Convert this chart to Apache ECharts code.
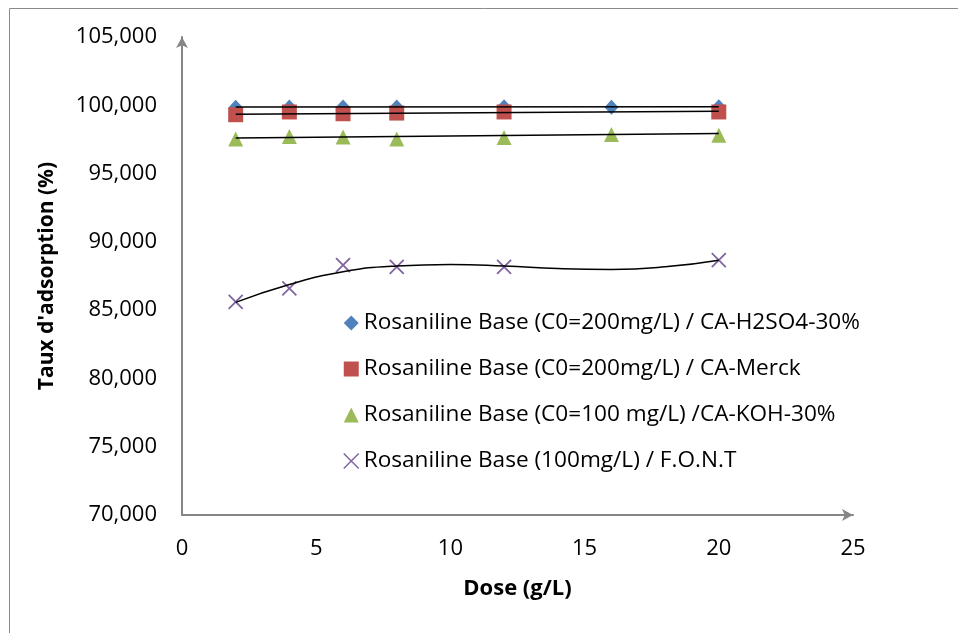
<!DOCTYPE html>
<html><head><meta charset="utf-8">
<script src="https://cdn.jsdelivr.net/npm/echarts@6/dist/echarts.min.js"></script>
<style>html,body{margin:0;padding:0;background:#fff}#c{width:958px;height:633px}</style>
</head><body><div id="c"></div>
<script>
// ---- data ----
var doseAll = [2, 4, 6, 8, 12, 16, 20];
var doseNo16 = [2, 4, 6, 8, 12, 20];
var h2so4Values = [99.85, 99.88, 99.88, 99.88, 99.9, 99.86, 99.9];
var merckValues = [99.31, 99.51, 99.38, 99.43, 99.51, 99.51];
var kohValues = [97.53, 97.72, 97.68, 97.53, 97.64, 97.86, 97.81];
var fontValues = [85.61, 86.59, 88.30, 88.17, 88.17, 88.66];
// trend lines
var trendLinX = [2, 20];
var h2so4Trend = [99.87, 99.9];
var merckTrend = [99.34, 99.56];
var kohTrend = [97.61, 97.93];
var fontTrendX = [2, 4, 6, 8, 10, 12, 14, 16, 18, 20];
var fontTrend = [85.57, 86.88, 87.81, 88.24, 88.35, 88.24, 88.05, 87.98, 88.17, 88.66];
var seriesNames = [
  'Rosaniline Base (C0=200mg/L) / CA-H2SO4-30%',
  'Rosaniline Base (C0=200mg/L) / CA-Merck',
  'Rosaniline Base (C0=100 mg/L) /CA-KOH-30%',
  'Rosaniline Base (100mg/L) / F.O.N.T'
];
var yTicks = [70, 75, 80, 85, 90, 95, 100, 105];
var xTicks = [0, 5, 10, 15, 20, 25];

function pairs(xs, ys) { return xs.map(function (x, i) { return [x, ys[i]]; }); }

var FONT = 'Open Sans';
var crossPath = 'path://M0,0L10,10M10,0L0,10';

var chart = echarts.init(document.getElementById('c'));
function trend(xs, ys, smooth) {
  return {
    type: 'line', data: pairs(xs, ys), smooth: smooth ? 0.5 : false, symbol: 'none',
    lineStyle: { color: '#000', width: 1.5 }, silent: true, z: 3, legendHoverLink: false
  };
}
chart.setOption({
  animation: false,
  textStyle: { fontFamily: FONT },
  graphic: [{
    type: 'rect', shape: { x: 9.5, y: 8.5, width: 1100, height: 800 },
    style: { fill: 'none', stroke: '#8a8a8a', lineWidth: 1 }, silent: true
  }],
  grid: { left: 182, right: 105, top: 37, bottom: 118 },
  xAxis: {
    type: 'value', min: 0, max: 25, interval: 5,
    name: 'Dose (g/L)', nameLocation: 'middle', nameGap: 63,
    nameTextStyle: { fontFamily: FONT, fontWeight: 'bold', fontSize: 22, color: '#000' },
    axisLine: { lineStyle: { color: '#868686', width: 2 }, symbol: ['none', 'arrow'], symbolSize: [9, 11] },
    axisTick: { show: false }, splitLine: { show: false },
    axisLabel: { fontSize: 22, color: '#000', margin: 23, formatter: function (v) { return String(v); } }
  },
  yAxis: {
    type: 'value', min: 70, max: 105, interval: 5,
    name: "Taux d'adsorption (%)", nameLocation: 'middle', nameGap: 124,
    nameTextStyle: { fontFamily: FONT, fontWeight: 'bold', fontSize: 21, color: '#000' },
    axisLine: { show: true, lineStyle: { color: '#868686', width: 2 }, symbol: ['none', 'arrow'], symbolSize: [9, 11] },
    axisTick: { show: false }, splitLine: { show: false },
    axisLabel: { fontSize: 22, color: '#000', margin: 25, formatter: function (v) { return v.toFixed(3).replace('.', ','); } }
  },
  legend: {
    orient: 'vertical', left: 338, top: 306, itemGap: 22, itemWidth: 15, itemHeight: 15,
    textStyle: { fontSize: 22.6, color: '#000', fontFamily: FONT, lineHeight: 24 },
    data: [
      { name: seriesNames[0], icon: 'diamond' },
      { name: seriesNames[1], icon: 'rect' },
      { name: seriesNames[2], icon: 'triangle' },
      { name: seriesNames[3], icon: crossPath, itemStyle: { color: 'transparent', borderColor: '#8064A2', borderWidth: 1.5 } }
    ]
  },
  series: [
    { name: seriesNames[0], type: 'scatter', data: pairs(doseAll, h2so4Values), symbol: 'diamond', symbolSize: [14, 15],
      itemStyle: { color: '#4F81BD', opacity: 1 }, z: 2 },
    { name: seriesNames[1], type: 'scatter', data: pairs(doseNo16, merckValues), symbol: 'rect', symbolSize: [15, 15],
      itemStyle: { color: '#C0504D', opacity: 1 }, z: 2 },
    { name: seriesNames[2], type: 'scatter', data: pairs(doseAll, kohValues), symbol: 'triangle', symbolSize: [15, 15],
      itemStyle: { color: '#9BBB59', opacity: 1 }, z: 2 },
    { name: seriesNames[3], type: 'scatter', data: pairs(doseNo16, fontValues), symbol: crossPath, symbolSize: [14, 14],
      itemStyle: { color: 'transparent', borderColor: '#8064A2', borderWidth: 1.8, opacity: 1 }, z: 2 },
    trend(trendLinX, h2so4Trend, false),
    trend(trendLinX, merckTrend, false),
    trend(trendLinX, kohTrend, false),
    trend(fontTrendX, fontTrend, true)
  ]
});
</script></body></html>
